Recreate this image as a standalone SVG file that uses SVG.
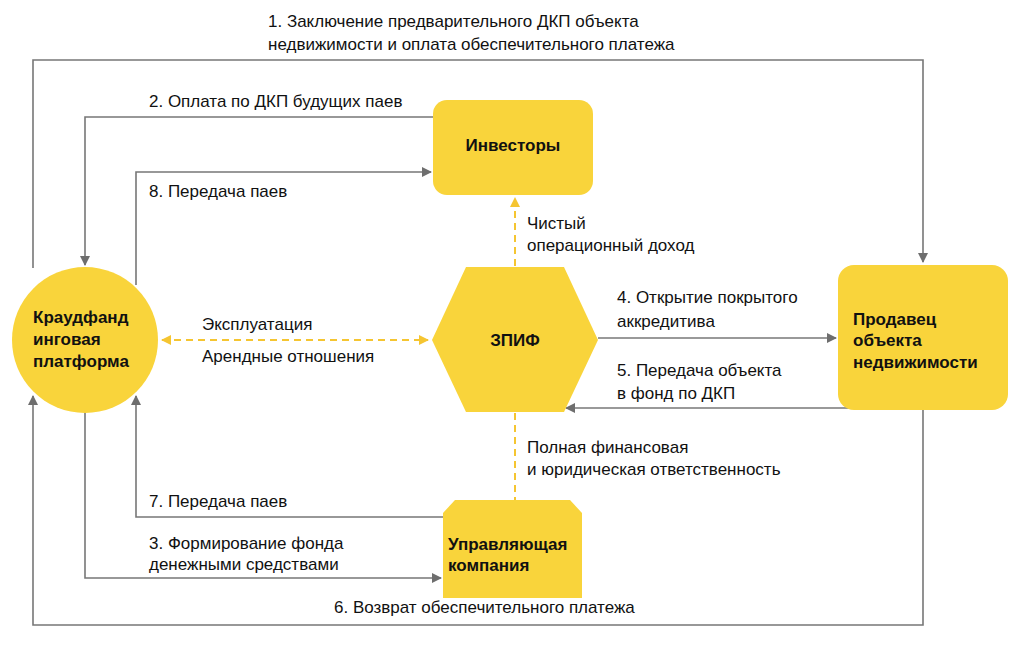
<svg xmlns="http://www.w3.org/2000/svg" width="1024" height="645" viewBox="0 0 1024 645">
<defs>
<marker id="ag" markerWidth="10" markerHeight="10" refX="9" refY="5" orient="auto" markerUnits="userSpaceOnUse"><path d="M0,0 L10,5 L0,10 Z" fill="#6e6e6e"/></marker>
<marker id="ay" markerWidth="10" markerHeight="10" refX="9" refY="5" orient="auto-start-reverse" markerUnits="userSpaceOnUse"><path d="M0,0 L10,5 L0,10 Z" fill="#f5c531"/></marker>
<style>
.n{fill:#f9d43b}
.l{fill:none;stroke:#777;stroke-width:1.6}
.d{fill:none;stroke:#f5c531;stroke-width:2;stroke-dasharray:7,5}
text{font-family:"Liberation Sans",Arial,sans-serif;font-size:17px;fill:#111}
.b{font-weight:bold;font-size:17px}
</style>
</defs>
<rect width="1024" height="645" fill="#fff"/>
<g id="connectors">
<path class="l" d="M33,268 V60 H923 V262" marker-end="url(#ag)"/>
<path class="l" d="M433,117 H85 V265" marker-end="url(#ag)"/>
<path class="l" d="M136,285 V172 H431" marker-end="url(#ag)"/>
<path class="l" d="M598,338 H836" marker-end="url(#ag)"/>
<path class="l" d="M850,408 H566" marker-end="url(#ag)"/>
<path class="l" d="M443,517 H136 V396" marker-end="url(#ag)"/>
<path class="l" d="M85,410 V578 H441" marker-end="url(#ag)"/>
<path class="l" d="M923,410 V625 H33 V396" marker-end="url(#ag)"/>
<path class="d" d="M162,340 H428" marker-start="url(#ay)" marker-end="url(#ay)"/>
<path class="d" d="M515,266 V198" marker-end="url(#ay)"/>
<path class="d" d="M515,413 V500"/>
</g>
<g id="platform"><circle class="n" cx="85" cy="340" r="73"/><text class="b" x="33" y="323">Краудфанд</text><text class="b" x="33" y="345">инговая</text><text class="b" x="33" y="367">платформа</text></g>
<g id="investors"><rect class="n" x="433" y="100" width="160" height="95" rx="14"/><text class="b" x="513" y="151" text-anchor="middle">Инвесторы</text></g>
<g id="zpif"><polygon class="n" points="432,340 466,267 564,267 598,340 564,412 466,412"/><text class="b" x="515" y="346" text-anchor="middle">ЗПИФ</text></g>
<g id="seller"><rect class="n" x="838" y="265" width="170" height="145" rx="16"/><text class="b" x="853" y="325">Продавец</text><text class="b" x="853" y="346">объекта</text><text class="b" x="853" y="368">недвижимости</text></g>
<g id="uk"><polygon class="n" points="443,513 455,500 570,500 582,513 582,598 443,598"/><text class="b" x="448" y="550">Управляющая</text><text class="b" x="448" y="571">компания</text></g>
<g id="labels">
<text x="268" y="27">1. Заключение предварительного ДКП объекта</text>
<text x="268" y="50">недвижимости и оплата обеспечительного платежа</text>
<text x="149" y="107">2. Оплата по ДКП будущих паев</text>
<text x="149" y="197">8. Передача паев</text>
<text x="527" y="229">Чистый</text>
<text x="527" y="251">операционный доход</text>
<text x="617" y="303">4. Открытие покрытого</text>
<text x="617" y="327">аккредитива</text>
<text x="202" y="330">Эксплуатация</text>
<text x="202" y="362">Арендные отношения</text>
<text x="617" y="376">5. Передача объекта</text>
<text x="617" y="399">в фонд по ДКП</text>
<text x="527" y="453">Полная финансовая</text>
<text x="527" y="475">и юридическая ответственность</text>
<text x="149" y="507">7. Передача паев</text>
<text x="149" y="549">3. Формирование фонда</text>
<text x="149" y="570">денежными средствами</text>
<text x="334" y="613">6. Возврат обеспечительного платежа</text>
</g>
</svg>
